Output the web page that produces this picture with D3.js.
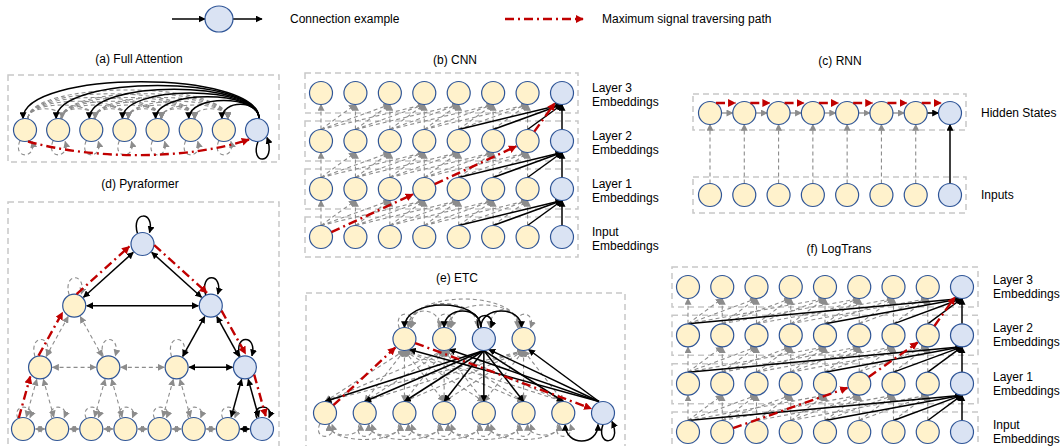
<!DOCTYPE html>
<html>
<head>
<style>
  body { margin: 0; background: #fff; }
  text { font: 12px "Liberation Sans", Arial, sans-serif; fill: #000; }
  .title { text-anchor: middle; }
</style>
<script src="https://d3js.org/d3.v7.min.js"></script>
</head>
<body>
<svg width="1062" height="446"></svg>
<script>
// ---- data ----
const legendLabels = ["Connection example", "Maximum signal traversing path"];
const panelTitles = ["(a) Full Attention", "(b) CNN", "(c) RNN", "(d) Pyraformer", "(e) ETC", "(f) LogTrans"];
const seqNodes = d3.range(8);          // 8 time steps, last one is the query
const logNodes = d3.range(9);          // 9 time steps in LogTrans
const layerNames = ["Input", "Layer 1", "Layer 2", "Layer 3"];
const layerSub = "Embeddings";
const rnnNames = ["Inputs", "Hidden States"];
const cnnOffsets = [0, 1, 2, 3];       // kernel size 4
const logOffsets = [0, 1, 2, 4, 8];    // log-sparse attention
const cnnPath = [0, 3, 6, 7];
const logPath = [1, 5, 7, 8];
const pyraLevels = [8, 4, 2, 1];
const pyraPath = [[0, 0], [1, 0], [2, 0], [3, 0], [2, 1], [1, 3], [0, 7]];
const etcTop = [2, 3, 4, 5];           // columns of the global tokens
const etcHub = 4;
const etcPath = [[0, 0], [1, 2], [0, 7]];

// ---- setup ----
const svg = d3.select("svg");
const defs = svg.append("defs");
const ink = { k: "#000", g: "#8c8c8c", s: "#8c8c8c", r: "#c00000" };
const inkW = { k: 1.5, g: 1.1, s: 1.3, r: 2.4 };
const inkDash = { k: null, g: "4,3", s: null, r: "9,4,2,4" };
["k", "g", "r"].forEach(k => {
  defs.append("marker").attr("id", "m" + k).attr("viewBox", "0 0 10 10")
    .attr("refX", 9).attr("refY", 5).attr("markerUnits", "userSpaceOnUse")
    .attr("markerWidth", k === "r" ? 8 : 7).attr("markerHeight", k === "r" ? 8 : 7)
    .attr("orient", "auto-start-reverse")
    .append("path").attr("d", "M0,0L10,5L0,10z").attr("fill", ink[k]);
});

const gBox = svg.append("g"), lo = svg.append("g"), hi = svg.append("g"),
      gNode = svg.append("g"), gRed = svg.append("g"), gText = svg.append("g");
const R = 11.5;

function box(x, y, w, h) {
  gBox.append("rect").attr("x", x).attr("y", y).attr("width", w).attr("height", h)
    .attr("fill", "none").attr("stroke", "#c8c8c8").attr("stroke-width", 1.5)
    .attr("stroke-dasharray", "6,4");
}
function node(x, y, hot) {
  gNode.append("circle").attr("cx", x).attr("cy", y).attr("r", R)
    .attr("fill", hot ? "#dae3f3" : "#fff2cc").attr("stroke", "#2f5597").attr("stroke-width", 1.2);
}
function link(d, kind, both) {
  const g = kind === "r" ? gRed : (kind === "k" ? hi : lo);
  const m = kind === "s" ? "g" : kind;
  const p = g.append("path").attr("d", d).attr("fill", "none")
    .attr("stroke", ink[kind]).attr("stroke-width", inkW[kind])
    .attr("marker-end", `url(#m${m})`);
  if (inkDash[kind]) p.attr("stroke-dasharray", inkDash[kind]);
  if (both) p.attr("marker-start", `url(#m${m})`);
  return p;
}
function seg(x1, y1, x2, y2, r1, r2, off) {
  const dx = x2 - x1, dy = y2 - y1, L = Math.hypot(dx, dy);
  const ox = off ? dy / L * off : 0, oy = off ? -dx / L * off : 0;
  return `M${x1 + dx / L * r1 + ox},${y1 + dy / L * r1 + oy}L${x2 - dx / L * r2 + ox},${y2 - dy / L * r2 + oy}`;
}
function arcUp(x1, x2, y, h) { return `M${x1},${y}C${x1},${y - h} ${x2},${y - h} ${x2},${y}`; }
function arcDown(x1, x2, y, h) { return `M${x1},${y}C${x1},${y + h} ${x2},${y + h} ${x2},${y}`; }
function loopUp(x, y, h, kind) { link(`M${x - 5},${y - R + 1}C${x - 12},${y - R - h} ${x + 13},${y - R - h} ${x + 7},${y - R}`, kind); }
function loopDown(x, y, h, kind) { link(`M${x - 5},${y + R - 1}C${x - 13},${y + R + h} ${x + 12},${y + R + h} ${x + 7},${y + R}`, kind); }
function title(t, x, y) { gText.append("text").attr("class", "title").attr("x", x).attr("y", y).text(t); }
function label2(a, b, x, y) {
  gText.append("text").attr("x", x).attr("y", y).text(a);
  gText.append("text").attr("x", x).attr("y", y + 14).text(b);
}

// ---- legend ----
link("M172,19L205,19", "k");
gNode.append("ellipse").attr("cx", 219).attr("cy", 19).attr("rx", 14).attr("ry", 13)
  .attr("fill", "#dae3f3").attr("stroke", "#2f5597").attr("stroke-width", 1.2);
link("M233,19L262,19", "k");
gText.append("text").attr("x", 290).attr("y", 23).text(legendLabels[0]);
link("M505,19L583,19", "r");
gText.append("text").attr("x", 602).attr("y", 23).text(legendLabels[1]);

// ---- (a) Full Attention ----
{
  const xA = d3.scaleLinear().domain([0, 7]).range([25, 257]), yA = 130;
  title(panelTitles[0], 139, 63);
  box(8, 75, 271, 87);
  seqNodes.forEach(i => seqNodes.forEach(j => {
    if (i < j && j < 7) link(arcUp(xA(i) + 3, xA(j) + 4, yA - R, 8 + 5 * (j - i)), "g");
  }));
  seqNodes.filter(i => i < 7).forEach(i => {
    link(arcUp(xA(7) + 2, xA(i) - 2, yA - R, 14 + 5 * (7 - i)), "k");
    loopDown(xA(i), yA, 18, "g");
  });
  link(`M${xA(7) + 1},${yA + R}C${xA(7) - 8},${yA + R + 24} ${xA(7) + 20},${yA + R + 24} ${xA(7) + 10},${yA + R - 4}`, "k");
  seqNodes.forEach(i => node(xA(i), yA, i === 7));
  link(`M${xA(0) + 3},${yA + R}C${xA(0) + 70},${yA + 30} ${xA(7) - 70},${yA + 30} ${xA(7) - 8},${yA + R - 2}`, "r");
}

// ---- layered panels (CNN, LogTrans) ----
function layered(x, y, cols, offs, path, labX, labDy) {
  const last = cols.length - 1;
  d3.range(4).forEach(l => box(x(0) - 16, y(l) - 20, x(last) - x(0) + 32, 40));
  d3.range(3).forEach(l => cols.forEach(j => offs.forEach(o => {
    const s = j - o;
    if (s < 0) return;
    link(`M${x(s)},${y(l) - R}L${x(j)},${y(l + 1) + R}`, j === last ? "k" : "g");
  })));
  d3.range(4).forEach(l => cols.forEach(j => node(x(j), y(l), j === last)));
  d3.range(3).forEach(p => link(seg(x(path[p]), y(p), x(path[p + 1]), y(p + 1), R, R + 1), "r"));
  d3.range(4).forEach(l => label2(layerNames[l], layerSub, labX, y(l) + labDy));
}
title(panelTitles[1], 455, 64);
layered(d3.scaleLinear().domain([0, 7]).range([321, 562]),
        d3.scaleLinear().domain([0, 3]).range([237, 93]), seqNodes, cnnOffsets, cnnPath, 592, -1);
title(panelTitles[5], 839, 253);
layered(d3.scaleLinear().domain([0, 8]).range([688, 962]),
        d3.scaleLinear().domain([0, 3]).range([432, 287]), logNodes, logOffsets, logPath, 993, -3);

// ---- (c) RNN ----
{
  const xC = d3.scaleLinear().domain([0, 7]).range([710, 950]);
  const yC = d3.scaleLinear().domain([0, 1]).range([195, 113]);
  title(panelTitles[2], 840, 65);
  box(693, 94, 273, 36); box(693, 177, 273, 36);
  seqNodes.forEach(i => {
    link(`M${xC(i)},${yC(0) - R}L${xC(i)},${yC(1) + R}`, i === 7 ? "k" : "g");
    if (i < 7) {
      link(`M${xC(i) + R},${yC(1)}L${xC(i + 1) - R},${yC(1)}`, i === 6 ? "k" : "s");
      link(`M${xC(i) + 6},${yC(1) - 10}L${xC(i + 1) - 9},${yC(1) - 10}`, "r");
    }
  });
  seqNodes.forEach(i => { node(xC(i), yC(0), i === 7); node(xC(i), yC(1), i === 7); });
  gText.append("text").attr("x", 981).attr("y", yC(1) + 4).text(rnnNames[1]);
  gText.append("text").attr("x", 981).attr("y", yC(0) + 4).text(rnnNames[0]);
}

// ---- (d) Pyraformer ----
{
  const xD = d3.scaleLinear().domain([0, 7]).range([23, 262]);
  const yD = d3.scaleLinear().domain([0, 3]).range([429, 244]);
  const px = (L, k) => xD(k * 2 ** L + (2 ** L - 1) / 2);
  const hot = (L, k) => k === pyraLevels[L] - 1;
  title(panelTitles[3], 140, 188);
  box(8, 202, 271, 260);
  pyraLevels.forEach((n, L) => d3.range(n).forEach(k => {
    const x = px(L, k), y = yD(L);
    if (L > 0) [2 * k, 2 * k + 1].forEach(c =>
      link(seg(x, y, px(L - 1, c), yD(L - 1), R + 1, R + 1), hot(L, k) || hot(L - 1, c) ? "k" : "g", true));
    if (k < n - 1)
      link(seg(x, y, px(L, k + 1), y, R + 1, R + 1), hot(L, k + 1) ? "k" : (L === 0 ? "s" : "g"), true);
    loopUp(x, y, L === 0 ? 14 : 22, hot(L, k) ? "k" : "g");
    node(x, y, hot(L, k));
  }));
  d3.range(pyraPath.length - 1).forEach(p => {
    const a = pyraPath[p], b = pyraPath[p + 1];
    link(seg(px(a[0], a[1]), yD(a[0]), px(b[0], b[1]), yD(b[0]), R - 2, R, 7), "r");
  });
}

// ---- (e) ETC ----
{
  const xE = d3.scaleLinear().domain([0, 7]).range([325, 603]);
  const yE = d3.scaleLinear().domain([0, 1]).range([413, 339]);
  const top = yE(1), bot = yE(0);
  title(panelTitles[4], 457, 282);
  box(306, 293, 319, 170);
  etcTop.forEach(c => seqNodes.forEach(i => {
    if (c !== etcHub && i !== 7) link(`M${xE(c)},${top + R}L${xE(i)},${bot - R}`, "g", true);
  }));
  etcTop.forEach(a => etcTop.forEach(b => {
    if (a < b && a !== etcHub && b !== etcHub) link(arcUp(xE(a) + 4, xE(b) - 4, top - R, 14 + 8 * (b - a)), "g", true);
    if (a < b && (a === etcHub || b === etcHub)) link(arcUp(xE(a) + 6, xE(b) - 6, top - R, 16 + 8 * (b - a)), "g", true);
  }));
  etcTop.filter(c => c !== etcHub).forEach(c => {
    link(arcUp(xE(etcHub) - 3, xE(c) + (c < etcHub ? 0 : -2), top - R, 14 + 8 * Math.abs(c - etcHub)), "k");
    loopUp(xE(c), top, 18, "g");
  });
  loopUp(xE(etcHub), top, 16, "k");
  seqNodes.filter(i => i < 7).forEach(i => {
    link(`M${xE(etcHub)},${top + R}L${xE(i)},${bot - R}`, "k");
    loopDown(xE(i), bot, 16, "g");
    [1, 2].forEach(d => { if (i + d < 7) link(arcDown(xE(i) + 4, xE(i + d) - 4, bot + R, 8 + 6 * d), "g", true); });
  });
  etcTop.forEach(c => link(`M${xE(7) - 4},${bot - R}L${xE(c) + 5},${top + R - 1}`, "k"));
  link(arcDown(xE(6) + 2, xE(7) - 5, bot + R, 22), "k", true);
  link(`M${xE(7)},${bot + R}C${xE(7) - 8},${bot + R + 22} ${xE(7) + 20},${bot + R + 22} ${xE(7) + 9},${bot + R - 3}`, "k");
  etcTop.forEach(c => node(xE(c), top, c === etcHub));
  seqNodes.forEach(i => node(xE(i), bot, i === 7));
  d3.range(etcPath.length - 1).forEach(p => {
    const a = etcPath[p], b = etcPath[p + 1];
    link(seg(xE(a[1]), a[0] ? top : bot, xE(b[1]), b[0] ? top : bot, R, R + 1), "r");
  });
}
</script>
</body>
</html>
